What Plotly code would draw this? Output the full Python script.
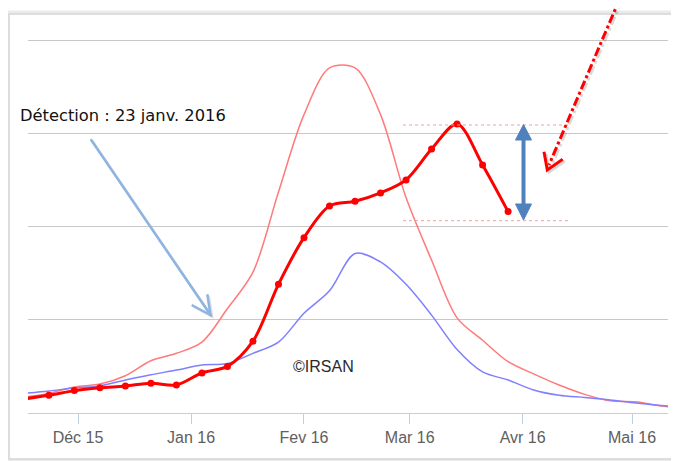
import pandas as pd
import plotly.graph_objects as go

# ---- data ----
week_dates = pd.date_range("2015-11-16", "2016-05-16", freq="7D")

# red (current season, weekly observations with markers)
red_dates = week_dates[:20]
red_values = [0.15, 0.19, 0.24, 0.27, 0.29, 0.32, 0.30, 0.43, 0.50, 0.77,
              1.38, 1.88, 2.22, 2.27, 2.36, 2.50, 2.83, 3.10, 2.66, 2.16]

# light red (reference season)
pink_values = [0.17, 0.21, 0.28, 0.31, 0.40, 0.56, 0.64, 0.76, 1.12, 1.51,
               2.37, 3.20, 3.70, 3.70, 3.20, 2.31, 1.64, 1.02, 0.78, 0.55,
               0.42, 0.30, 0.20, 0.13, 0.12, 0.075, 0.05]

# light blue/purple (reference season)
blue_values = [0.21, 0.236, 0.268, 0.29, 0.354, 0.41, 0.46, 0.515, 0.53, 0.64,
               0.76, 1.07, 1.31, 1.71, 1.62, 1.38, 1.05, 0.68, 0.44, 0.354,
               0.247, 0.19, 0.166, 0.14, 0.107, 0.08, 0.064]

tick_dates = ["2015-12-01", "2016-01-01", "2016-02-01", "2016-03-01", "2016-04-01", "2016-05-01"]
tick_labels = ["Déc 15", "Jan 16", "Fev 16", "Mar 16", "Avr 16", "Mai 16"]

detection_label = "Détection : 23 janv. 2016"
watermark = "©IRSAN"

# ---- geometry (screen pixels; page body has an 8px margin) ----
OFF = 8
W, H = 679 - OFF, 461 - OFF
PLOT_L, PLOT_R, PLOT_T, PLOT_B = 28, 668, 21, 413   # plot area on screen
L, T = PLOT_L - OFF, PLOT_T - OFF
R, B = 679 - PLOT_R, 461 - PLOT_B
PW, PH = PLOT_R - PLOT_L, PLOT_B - PLOT_T


def px(x):
    return (x - PLOT_L) / PW


def py(y):
    return (PLOT_B - y) / PH


x_start = pd.Timestamp("2015-12-01") - pd.Timedelta(days=13.72)
x_end = pd.Timestamp("2015-12-01") + pd.Timedelta(days=161.87)

fig = go.Figure()
fig.add_trace(go.Scatter(x=week_dates, y=pink_values, mode="lines",
                         line=dict(color="#FF7A7A", width=1.5, shape="spline", smoothing=0.9),
                         hoverinfo="skip"))
fig.add_trace(go.Scatter(x=week_dates, y=blue_values, mode="lines",
                         line=dict(color="#7F7FFF", width=1.5, shape="spline", smoothing=0.9),
                         hoverinfo="skip"))
fig.add_trace(go.Scatter(x=red_dates, y=red_values, mode="lines+markers",
                         line=dict(color="#FF0000", width=3, shape="spline", smoothing=0.9),
                         marker=dict(color="#FF0000", size=7)))

shapes = []
# frame with soft shadow
shapes.append(dict(type="rect", xref="paper", yref="paper",
                   x0=px(7), x1=px(700), y0=py(461), y1=py(12),
                   line=dict(color="#EBEBEB", width=3), layer="below"))
shapes.append(dict(type="rect", xref="paper", yref="paper",
                   x0=px(9), x1=px(700), y0=py(459), y1=py(14),
                   line=dict(color="#D3D3D3", width=1.5), layer="below"))

# dotted pink horizontal guides
for yy in (125, 220.7):
    shapes.append(dict(type="line", xref="paper", yref="paper",
                       x0=px(403), x1=px(571), y0=py(yy), y1=py(yy),
                       line=dict(color="#E9A3A3", width=1, dash="dot")))

# blue double-headed arrow
shapes.append(dict(type="line", xref="paper", yref="paper",
                   x0=px(523.5), x1=px(523.5), y0=py(138), y1=py(206),
                   line=dict(color="#4F81BD", width=4)))
shapes.append(dict(type="path", xref="paper", yref="paper",
                   path=f"M {px(523.5)} {py(124.5)} L {px(531.5)} {py(140)} L {px(515.5)} {py(140)} Z",
                   fillcolor="#4F81BD", line=dict(color="#4F81BD", width=1)))
shapes.append(dict(type="path", xref="paper", yref="paper",
                   path=f"M {px(523.5)} {py(220)} L {px(531.5)} {py(204)} L {px(515.5)} {py(204)} Z",
                   fillcolor="#4F81BD", line=dict(color="#4F81BD", width=1)))

# light blue detection arrow (with faint shadow)
for dx, col in ((1.5, "rgba(0,0,0,0.12)"), (0, "#8DB4E2")):
    shapes.append(dict(type="line", xref="paper", yref="paper",
                       x0=px(90.7 + dx), y0=py(139.3 + dx), x1=px(210.5 + dx), y1=py(315 + dx),
                       line=dict(color=col, width=2.5)))
    shapes.append(dict(type="path", xref="paper", yref="paper",
                       path=(f"M {px(191.7 + dx)} {py(305 + dx)} L {px(210.5 + dx)} {py(315 + dx)} "
                             f"L {px(207.3 + dx)} {py(294.3 + dx)}"),
                       line=dict(color=col, width=2.5)))

# red dash-dot arrow (with faint shadow)
for dx, col in ((2, "rgba(0,0,0,0.15)"), (0, "#FF0000")):
    shapes.append(dict(type="line", xref="paper", yref="paper",
                       x0=px(620 + dx), y0=py(-2 + dx), x1=px(549 + dx), y1=py(165 + dx),
                       line=dict(color=col, width=3, dash="dashdot")))
    shapes.append(dict(type="path", xref="paper", yref="paper",
                       path=(f"M {px(544 + dx)} {py(151.7 + dx)} L {px(547.3 + dx)} {py(170 + dx)} "
                             f"L {px(562.7 + dx)} {py(159.3 + dx)}"),
                       line=dict(color=col, width=3)))

annotations = [
    dict(text=detection_label, xref="paper", yref="paper", x=px(18), y=py(116),
         xanchor="left", yanchor="middle", showarrow=False,
         font=dict(family="DejaVu Sans", size=16.3, color="#111111")),
    dict(text=watermark, xref="paper", yref="paper", x=px(323), y=py(366),
         xanchor="center", yanchor="middle", showarrow=False,
         font=dict(family="Liberation Sans", size=16, color="#2A2A2A")),
]

fig.update_layout(
    width=W, height=H,
    margin=dict(l=L, r=R, t=T, b=B, pad=0),
    paper_bgcolor="white", plot_bgcolor="white",
    showlegend=False,
    shapes=shapes,
    annotations=annotations,
    xaxis=dict(range=[x_start, x_end], tickvals=tick_dates, ticktext=tick_labels,
               showgrid=False, zeroline=False, showline=True, linecolor="#C0D0E0", linewidth=1,
               ticks="outside", ticklen=10, tickcolor="#C0D0E0", tickwidth=1,
               tickfont=dict(family="Liberation Sans", size=16, color="#606060")),
    yaxis=dict(range=[0, PH / 93.25], dtick=1, tick0=0, showgrid=True, gridcolor="#C8C8C8",
               gridwidth=1, zeroline=False, showticklabels=False, ticks=""),
)

fig.write_html("out.html")
